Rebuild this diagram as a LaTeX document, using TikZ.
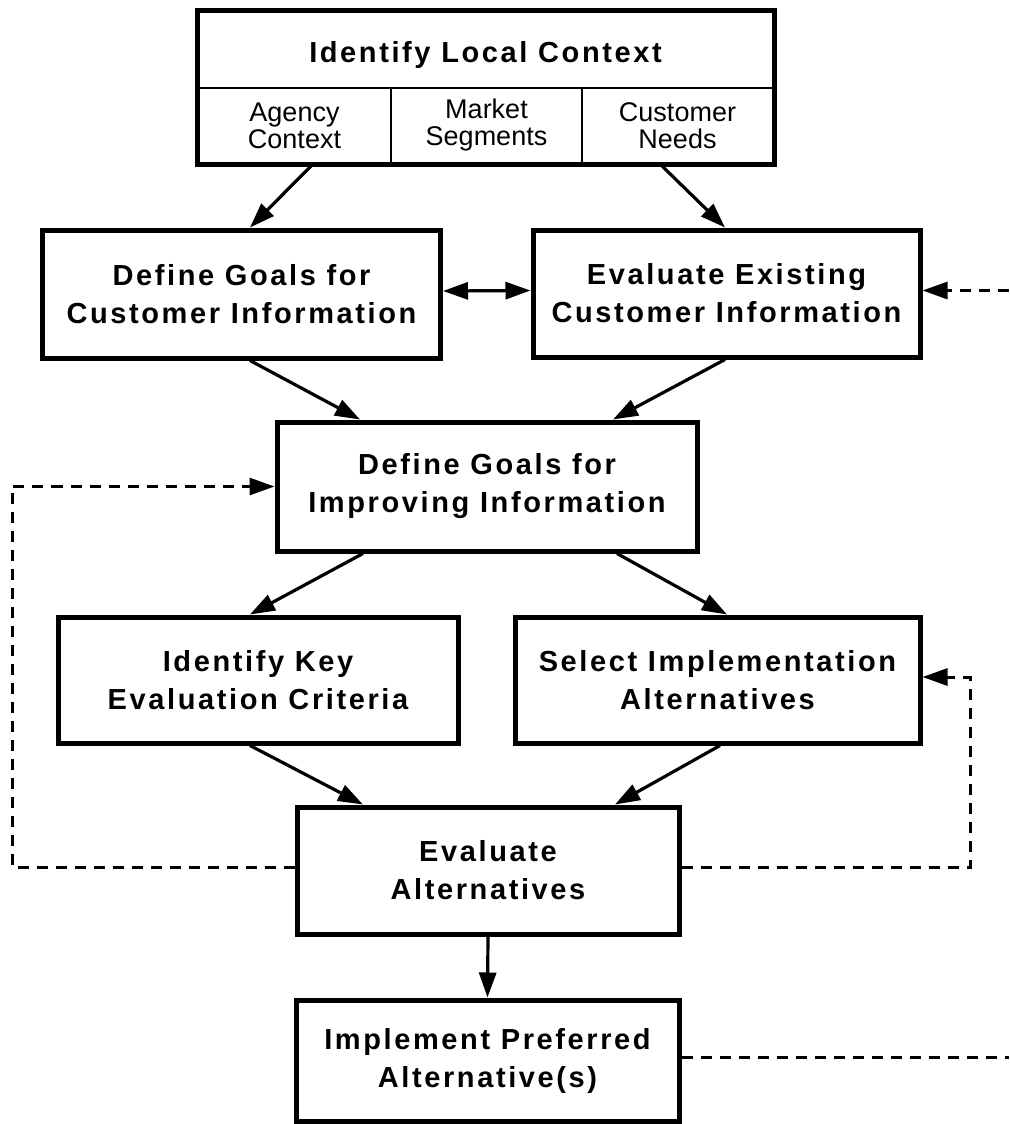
\documentclass[tikz,border=0pt]{standalone}
\usepackage{fontspec}
\setmainfont{Liberation Sans}
\newfontfamily\bfont[LetterSpace=9]{Liberation Sans}
\usetikzlibrary{arrows.meta,calc}
\begin{document}
\begin{tikzpicture}[x=0.5pt,y=-0.5pt,
  box/.style={draw,line width=2.5pt,inner sep=0pt,align=center,
    font=\bfont\bfseries\fontsize{14.5}{19}\selectfont},
  cellbox/.style={draw,line width=1pt,inner sep=0pt,align=center,
    font=\fontsize{13.5}{13.5}\selectfont},
  titlebox/.style={draw,line width=1pt,inner sep=0pt,align=center,
    font=\bfont\bfseries\fontsize{14.5}{19}\selectfont},
  arr/.style={line width=1.6pt,-{Triangle[length=12.5pt,width=8.5pt]}},
  dbarr/.style={line width=1.6pt,{Triangle[length=12.5pt,width=8.5pt]}-{Triangle[length=12.5pt,width=8.5pt]}},
  dashline/.style={line width=1.5pt,dash pattern=on 5.5pt off 4pt},
  dasharr/.style={dashline,-{Triangle[length=12.5pt,width=8.5pt]}}
]
\useasboundingbox (0,0) rectangle (1009,1124);

% top box
\node[titlebox,minimum width=287.5pt,minimum height=38.5pt] (title) at (485.5,49.5) {\raisebox{-6.5pt}[0pt][0pt]{Identify Local Context}};
\node[cellbox,minimum width=96.5pt,minimum height=37.5pt] (ctxA) at (294.5,125.5) {Agency\\Context};
\node[cellbox,minimum width=95.5pt,minimum height=37.5pt] (ctxM) at (486.5,125.5) {Market\\Segments};
\node[cellbox,minimum width=95.5pt,minimum height=37.5pt] (ctxC) at (677.5,125.5) {Customer\\Needs};
\draw[line width=2.5pt] (title.north west) rectangle (ctxC.south east);

% process boxes
\node[box,minimum width=199pt,minimum height=64pt] (A) at (241.5,294) {Define Goals for\\Customer Information};
\node[box,minimum width=193.5pt,minimum height=63.5pt] (B) at (726.5,293.5) {Evaluate Existing\\Customer Information};
\node[box,minimum width=210pt,minimum height=64.5pt] (C) at (487,486.5) {Define Goals for\\Improving Information};
\node[box,minimum width=200pt,minimum height=63pt] (D) at (258,680) {Identify Key\\Evaluation Criteria};
\node[box,minimum width=202.5pt,minimum height=63pt] (E) at (717.5,680) {Select Implementation\\Alternatives};
\node[box,minimum width=191pt,minimum height=63.5pt] (F) at (488,870.5) {Evaluate\\Alternatives};
\node[box,minimum width=191.5pt,minimum height=60.5pt] (G) at (487.5,1060.5) {Implement Preferred\\Alternative(s)};

% solid arrows
\draw[arr] ($(ctxA.south)+(18.5,0)$) -- ($(A.north)+(8.5,0)$);
\draw[arr] ($(ctxC.south)+(-17.5,0)$) -- ($(B.north)+(-1.5,0)$);
\draw[dbarr] ($(A.east)+(0,-3)$) -- ($(B.west)+(0,-3)$);
\draw[arr] ($(A.south)+(8.5,0)$) -- ($(C.north)+(-127,0)$);
\draw[arr] ($(B.south)+(-1.5,0)$) -- ($(C.north)+(126,0)$);
\draw[arr] ($(C.south)+(-124,0)$) -- ($(D.north)+(-8,0)$);
\draw[arr] ($(C.south)+(130,0)$) -- ($(E.north)+(9.5,0)$);
\draw[arr] ($(D.south)+(-8,0)$) -- ($(F.north)+(-125,0)$);
\draw[arr] ($(E.south)+(2.5,0)$) -- ($(F.north)+(127,0)$);
\draw[arr] (F.south) -- (G.north);

% dashed feedback lines
\coordinate (lcorner) at (12,486.5);
\coordinate (rcorner) at (970,677);
\coordinate (bin) at (1009,290.5);
\coordinate (gout) at (1009,1057.5);
\draw[dasharr] ($(F.west)+(0,-3)$) -| (lcorner) -- (C.west);
\draw[dasharr] ($(F.east)+(0,-3)$) -| (rcorner) -- ($(E.east)+(0,-3)$);
\draw[dasharr] (bin) -- ($(B.east)+(0,-3)$);
\draw[dashline] ($(G.east)+(0,-3)$) -- (gout);
\end{tikzpicture}
\end{document}
